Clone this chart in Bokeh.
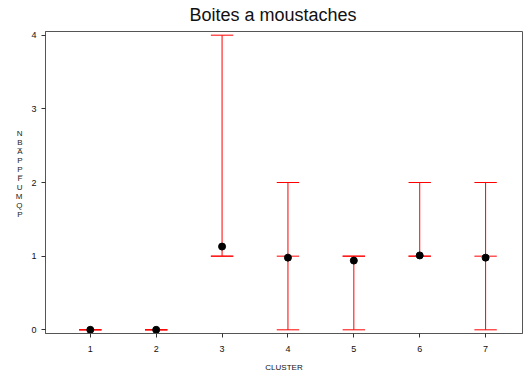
from bokeh.plotting import figure
from bokeh.models import Range1d, FixedTicker, Title, ColumnDataSource
from bokeh.embed import file_html
from bokeh.resources import INLINE

clusters = [1, 2, 3, 4, 5, 6, 7]
means = [0.0, 0.0, 1.13, 0.98, 0.94, 1.01, 0.98]
mins = [0, 0, 1, 0, 0, 1, 0]
medians = [0, 0, 1, 1, 1, 1, 1]
maxs = [0, 0, 4, 2, 1, 2, 2]
x_ticks = [1, 2, 3, 4, 5, 6, 7]
y_ticks = [0, 1, 2, 3, 4]
title_text = "Boites a moustaches"
x_label = "CLUSTER"
y_label = "NB_APP_FUMQP"

FONT = "Liberation Sans"
RED = "#ff0000"
cap = 0.17

p = figure(width=525, height=375, output_backend="svg", toolbar_location=None,
           x_range=Range1d(0.32, 7.56), y_range=Range1d(-0.05, 4.05),
           min_border_left=45, min_border_top=31, min_border_bottom=42, min_border_right=3)
p.grid.visible = False
p.outline_line_color = "#555555"
p.outline_line_width = 1

p.add_layout(Title(text=title_text, align="left", offset=144, standoff=9,
                   vertical_align="top", text_font=FONT,
                   text_font_size="18px", text_font_style="normal",
                   text_color="#111111"), "above")

for ax in (p.xaxis[0], p.yaxis[0]):
    ax.axis_line_color = "#555555"
    ax.major_tick_line_color = "#333333"
    ax.minor_tick_line_color = None
    ax.major_tick_in = 0
    ax.major_tick_out = 4
    ax.major_label_text_font = FONT
    ax.major_label_text_font_size = "9px"
    ax.major_label_text_color = "#111111"
p.xaxis.ticker = FixedTicker(ticks=x_ticks)
p.yaxis.ticker = FixedTicker(ticks=y_ticks)
p.xaxis.major_label_standoff = 8
p.yaxis.major_label_standoff = 5
p.xaxis.axis_label = x_label
p.xaxis.axis_label_text_font = FONT
p.xaxis.axis_label_text_font_size = "8px"
p.xaxis.axis_label_text_font_style = "normal"
p.xaxis.axis_label_text_color = "#111111"
p.xaxis.axis_label_standoff = 8

# stacked (horizontal, one letter per row) y label; underscores drawn as overlines
stacked = []
pending = False
for ch in y_label:
    if ch == "_":
        pending = True
        continue
    stacked.append(ch + ("\u0305" if pending else ""))
    pending = False
stacked += [" ", " "]
yax = p.yaxis[0]
yax.axis_label = "\n".join(stacked)
yax.axis_label_orientation = "horizontal"
yax.axis_label_text_font = FONT
yax.axis_label_text_font_size = "8px"
yax.axis_label_text_font_style = "normal"
yax.axis_label_text_color = "#222222"
yax.axis_label_text_line_height = 1.0
yax.axis_label_standoff = 6
yax.axis_label_text_align = "center"

src = ColumnDataSource(dict(
    x=clusters, lo=mins, me=medians, hi=maxs, mean=means,
    xl=[c - cap for c in clusters], xr=[c + cap for c in clusters]))

p.segment(x0="x", y0="lo", x1="x", y1="hi", source=src, line_color=RED, line_width=1)
for col in ("lo", "me", "hi"):
    p.segment(x0="xl", y0=col, x1="xr", y1=col, source=src, line_color=RED, line_width=1)
p.scatter(x="x", y="mean", source=src, size=7, color="black")

open("out.html", "w").write(file_html(p, INLINE))
